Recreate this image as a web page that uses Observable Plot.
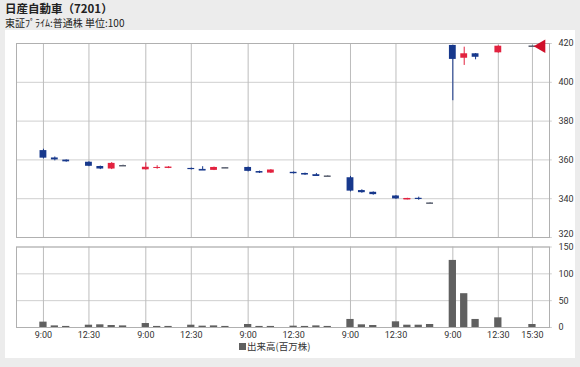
<!DOCTYPE html>
<html><head><meta charset="utf-8">
<script src="https://cdn.jsdelivr.net/npm/d3@7"></script>
<script src="https://cdn.jsdelivr.net/npm/@observablehq/plot@0.6"></script>
<style>
body{margin:0;background:#ececec;width:580px;height:367px;overflow:hidden;position:relative;font-family:"Noto Sans CJK JP",sans-serif;}
#title{position:absolute;left:5px;top:0px;font-size:11.5px;font-weight:bold;color:#222;line-height:16.7px;white-space:nowrap}
#sub{position:absolute;left:5px;top:16.4px;font-size:10px;color:#222;line-height:14.5px;white-space:nowrap}
#panel{position:absolute;left:5px;top:30px;width:570px;height:328px;background:#fff}
#topchart{position:absolute;left:0;top:30px}
#botchart{position:absolute;left:0;top:241px}
#legend{position:absolute;top:340px;left:239px;font-size:9.5px;color:#333;line-height:12px;white-space:nowrap;display:flex;align-items:center}
#legend span.sw{display:inline-block;width:7px;height:7px;background:#606060;margin-right:1px}
</style></head><body>
<div id="title">日産自動車（7201）</div>
<div id="sub">東証ﾌﾟﾗｲﾑ:普通株 単位:100</div>
<div id="panel"></div>
<div id="topchart"></div>
<div id="botchart"></div>
<div id="legend"><span class="sw"></span><span>出来高(百万株)</span></div>
<script>
// slot index: each trading day = 9 slots (9:00,10:00,11:00,-,12:30,13:30,14:30,15:30,-)
const slots  = [0,1,2,4,5,6,7, 9,10,11,13,14,15,16, 18,19,20,22,23,24,25, 27,28,29,31,32,33,34, 36,37,38,40,43];
const opens  = [364.8,361.0,359.9,358.8,356.6,355.3,357.0, 354.9,355.6,355.6,355.6,355.1,354.6,355.9, 356.1,354.0,353.2,353.6,353.0,352.4,351.6, 350.8,344.2,343.3,341.4,339.6,340.2,337.7, 419.0,412.4,414.7,415.2,418.6];
const highs  = [365.5,361.5,360.0,359.0,356.8,358.6,357.3, 358.5,357.0,356.5,355.8,356.5,356.3,356.0, 356.3,354.2,355.0,353.8,353.2,353.0,351.8, 351.5,344.6,343.5,341.6,340.2,340.8,337.9, 419.0,418.1,414.8,418.8,418.8];
const lows   = [360.5,359.5,358.8,356.5,355.0,355.0,356.8, 354.7,355.2,355.5,354.8,354.8,354.5,355.8, 353.8,353.0,353.0,352.7,352.0,351.8,351.4, 343.5,342.8,341.8,339.6,339.4,339.2,337.5, 390.5,408.7,411.6,415.0,418.4];
const closes = [360.9,360.0,359.0,356.7,355.3,358.2,357.0, 356.2,356.1,356.3,355.0,354.9,356.1,355.9, 354.1,353.2,354.8,352.9,352.2,352.1,351.6, 343.9,343.1,342.1,339.9,340.0,339.6,337.7, 411.8,414.7,412.9,418.6,418.6];
const volumes= [10,3,2,4.3,5,3.7,3, 7.4,2,2,4.3,2.5,3,2, 5.6,2,2,2.5,2,3,2, 15,5,3.7,10.6,4.3,4.3,5.6, 125,63,15,18,5.6];
const tickSlots  = [0,4,9,13,18,22,27,31,36,40,43];
const tickLabels = ["9:00","12:30","9:00","12:30","9:00","12:30","9:00","12:30","9:00","12:30","15:30"];
const priceTicks = [320,340,360,380,400,420];
const volTicks   = [0,50,100,150];

const UP = "#e2223f", DOWN = "#17388c", FLAT = "#5a6070";
const candles = slots.map((s,i)=>({slot:s, open:opens[i], high:highs[i], low:lows[i], close:closes[i], vol:volumes[i]}));
const col = d => d.close > d.open ? UP : d.close < d.open ? DOWN : FLAT;
const xDomain = [-2.37, 44.5];
const tickExt = 0.25; // outer tick length, in slot units
const W = 0.3;
const lastCandle = candles[candles.length-1];
const labelOf = new Map(tickSlots.map((s,i)=>[s,tickLabels[i]]));
const chartStyle = {fontFamily:"Roboto, sans-serif", fontSize:"9px", color:"#333", background:"transparent", overflow:"visible"};
const rightLabels = (vals, dy) => Plot.text(vals, {y:d=>d, text:d=>String(d), frameAnchor:"right", dx:9, dy, textAnchor:"start", fill:"#333"});

const priceChart = Plot.plot({
  width:580, height:211, marginLeft:16, marginRight:31, marginTop:13, marginBottom:4,
  style: chartStyle,
  x:{type:"linear", domain:xDomain, axis:null},
  y:{domain:[320,420], axis:null},
  marks:[
    Plot.ruleY(priceTicks, {x1:xDomain[0], x2:xDomain[1]+tickExt, stroke:"#cfcfcf"}),
    Plot.ruleX(tickSlots, {stroke:"#bdbdbd"}),
    Plot.frame({stroke:"#b0b0b0"}),
    rightLabels(priceTicks.filter(v=>v!==320), 0),
    rightLabels([320], -3),
    Plot.ruleX(candles, {x:"slot", y1:"low", y2:"high", stroke:col, strokeWidth:1}),
    Plot.rect(candles.filter(d=>d.open!==d.close), {x1:d=>d.slot-W, x2:d=>d.slot+W, y1:"open", y2:"close", fill:col}),
    Plot.ruleY(candles.filter(d=>Math.abs(d.open-d.close)<0.5), {y:"close", x1:d=>d.slot-W, x2:d=>d.slot+W, stroke:col, strokeWidth:1.5}),
    Plot.dot([lastCandle], {x:"slot", y:"close", symbol:"triangle", r:5, fill:"#d0102a", stroke:"none", rotate:-90, dx:9})
  ]
});
document.getElementById("topchart").appendChild(priceChart);

const volChart = Plot.plot({
  width:580, height:116, marginLeft:16, marginRight:31, marginTop:5.5, marginBottom:30,
  style: chartStyle,
  x:{type:"linear", domain:xDomain, axis:null},
  y:{domain:[0,150], axis:null},
  marks:[
    Plot.ruleY(volTicks, {x1:xDomain[0], x2:xDomain[1]+tickExt, stroke:"#cfcfcf"}),
    Plot.ruleX(tickSlots, {stroke:"#bdbdbd"}),
    Plot.frame({stroke:"#b0b0b0"}),
    rightLabels(volTicks.filter(v=>v!==150), 0),
    rightLabels([150], 0),
    Plot.axisX(tickSlots, {anchor:"bottom", tickSize:0, tickPadding:4, tickFormat:d=>labelOf.get(d), fill:"#333"}),
    Plot.rect(candles, {x1:d=>d.slot-0.32, x2:d=>d.slot+0.32, y1:0, y2:"vol", fill:"#606060"})
  ]
});
document.getElementById("botchart").appendChild(volChart);
</script>
</body></html>
